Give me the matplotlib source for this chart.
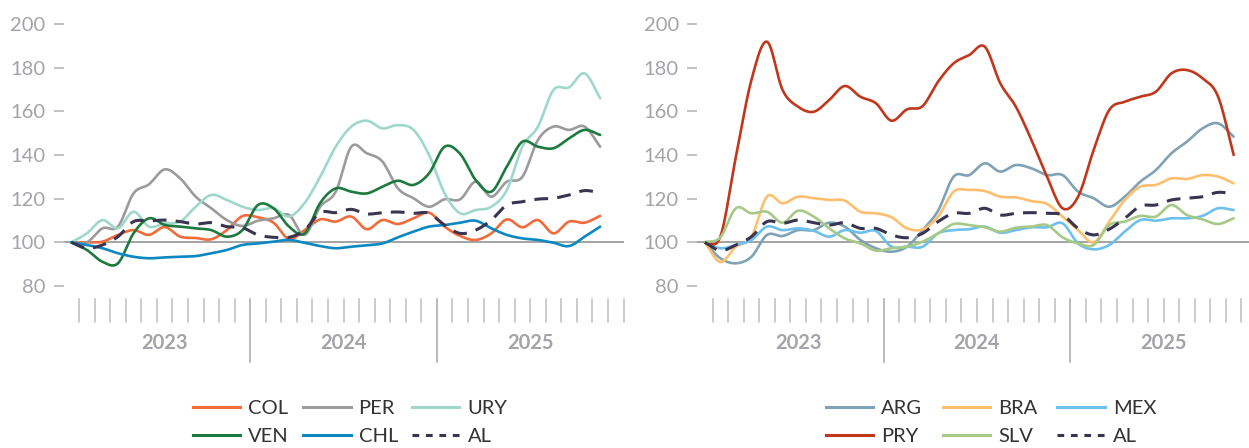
import matplotlib
matplotlib.use("Agg")
import matplotlib.pyplot as plt
import numpy as np
from matplotlib.lines import Line2D

plt.rcParams['font.family'] = ['Lato', 'DejaVu Sans']

# monthly index, Jan 2023 = 100 (35 months: Jan 2023 - Nov 2025)
years = ['2023', '2024', '2025']

COL = [100, 100, 100.3, 103.4, 105.6, 103.4, 107, 102.6, 102, 101.4, 105.6, 112,
       111.5, 109, 101.5, 105.6, 110.5, 109.5, 111.8, 106, 110.2, 108.4, 111, 113.6,
       107.2, 102.9, 101.1, 104.1, 110.5, 106.9, 110.2, 104.1, 109.5, 109, 112.1]
PER = [100, 100, 106.4, 107.2, 122.4, 126.6, 133.4, 129.3, 120.9, 115.6, 110.2, 107.5,
       109.9, 111, 112.5, 103.4, 116.3, 123.2, 143.8, 140.8, 137, 124.7, 120.2, 116.3,
       119.7, 119.7, 127.8, 120.9, 127.8, 130, 146.9, 153, 151.5, 153, 143.8]
URY = [100, 104.1, 110.2, 106.4, 114, 107.2, 108.7, 109.5, 116.3, 121.7, 119.4, 116.3,
       114.8, 115.6, 111.8, 118, 130, 143.8, 153, 155.7, 152.2, 153.7, 151.5, 140,
       122.4, 113.3, 114.8, 116.3, 124, 143.8, 153, 169.8, 171, 177.4, 166]
VEN = [100, 96.5, 91.1, 90.4, 104.1, 111, 108, 107.2, 106.4, 105.6, 102.6, 105.6,
       117.1, 115.6, 107.2, 104.1, 118, 124.7, 123.2, 122.4, 125.5, 128.2, 126.3, 131.6,
       143.8, 140.5, 128.5, 123.2, 134.7, 146.1, 143.8, 143.1, 147.6, 151.5, 149.2]
CHL = [100, 98.8, 97.3, 95, 93.4, 92.7, 93.1, 93.4, 93.7, 95, 96.5, 98.8,
       99.5, 100.3, 101.1, 99.8, 98.3, 97.3, 98, 98.6, 99.5, 102.3, 104.9, 107.2,
       107.9, 109, 109.9, 106.4, 103.4, 101.8, 101.1, 99.8, 98.3, 102.6, 107.2]
AL_1 = [100, 97.3, 98.8, 102.6, 109.5, 109.8, 110.2, 109.5, 108.4, 109, 107.2, 106.7,
        103.4, 102.3, 102.3, 105.6, 113.6, 113.6, 115.1, 113, 113.6, 113.9, 113.3, 113.3,
        107.9, 104.1, 105.6, 110.2, 117.1, 118.6, 119.8, 120.2, 121.7, 123.7, 122.7]

ARG = [100, 92.7, 90.4, 93.4, 103.4, 102.9, 105.6, 105.6, 109, 107.2, 101.1, 97.3,
       95.7, 98, 105.6, 114.5, 130.1, 130.8, 136.2, 132.4, 135.4, 133.9, 130.8, 130.8,
       123.2, 120.2, 116.3, 120.9, 127.8, 133.1, 140.8, 146.1, 152.2, 154.5, 148.4]
BRA = [100, 91, 98, 102.5, 121, 117.9, 120.9, 120.2, 119.4, 119.1, 114, 113.3,
       111.5, 106.4, 106, 111.8, 123.2, 124, 123.5, 120.9, 120.6, 118.9, 117.6, 111.8,
       105.6, 100, 109.5, 119.4, 125.5, 126.3, 129.3, 129, 130.8, 130.1, 127]
MEX = [100, 97.3, 98.8, 101.1, 107.2, 105.6, 106.4, 105.3, 102.6, 105.6, 104.4, 105.2,
       98, 98, 98, 104.1, 105.6, 106, 107.2, 104.4, 105.6, 106.9, 106.9, 108.7,
       99.5, 96.8, 98.8, 104.9, 110.2, 109.9, 111, 111, 112.1, 115.6, 114.8]
PRY = [100, 102.6, 139.2, 174.4, 191.9, 169.8, 162.1, 159.8, 165.2, 171.6, 166.7, 163.7,
       155.7, 160.9, 162.4, 173.6, 182, 185.8, 189.6, 172.8, 162.1, 146.9, 130.1, 115.6,
       120.9, 142.3, 160.6, 164.4, 166.7, 169, 177.4, 178.9, 175.1, 166.7, 140]
SLV = [100, 102.3, 115.6, 113.3, 114, 109, 114.5, 111.8, 106.4, 101.8, 99.5, 96.2,
       97.3, 98, 100.3, 104.1, 108.4, 107.9, 106.9, 104.9, 106.7, 107.2, 107.9, 102.3,
       99.5, 98.8, 107.9, 109.5, 112.1, 111.8, 117.1, 112.5, 110.5, 108.4, 111]
AL_2 = [100, 96.2, 98.8, 102.6, 109.5, 108.7, 110.2, 109, 107.9, 109, 106.4, 106.4,
        103.4, 102.1, 104.1, 109.5, 113.3, 113.3, 115.6, 112.5, 113.3, 113.6, 113.3, 112.5,
        106.4, 103.4, 106, 111, 116.6, 117.1, 119.4, 120.2, 120.9, 122.9, 122.1]

left_series = [('COL', COL, '#f26b3a'), ('PER', PER, '#9b9b9b'), ('URY', URY, '#9fd8cb'),
               ('VEN', VEN, '#1d7a3e'), ('CHL', CHL, '#0a88c1'), ('AL', AL_1, '#3b3450')]
right_series = [('ARG', ARG, '#7fa2b4'), ('BRA', BRA, '#fdbf6f'), ('MEX', MEX, '#6dc0eb'),
                ('PRY', PRY, '#c0381c'), ('SLV', SLV, '#a6c987'), ('AL', AL_2, '#3b3450')]

GRAY_TXT = '#a3a3a9'


def smooth(y, n=12):
    # catmull-rom curve through the monthly points (like excel smoothed lines)
    y = np.asarray(y, float)
    p = np.concatenate([[2 * y[0] - y[1]], y, [2 * y[-1] - y[-2]]])
    xs, ys = [], []
    t = np.linspace(0, 1, n, endpoint=False)
    for i in range(len(y) - 1):
        p0, p1, p2, p3 = p[i], p[i + 1], p[i + 2], p[i + 3]
        seg = 0.5 * (2 * p1 + (-p0 + p2) * t + (2 * p0 - 5 * p1 + 4 * p2 - p3) * t ** 2
                     + (-p0 + 3 * p1 - 3 * p2 + p3) * t ** 3)
        xs.extend(i + t)
        ys.extend(seg)
    xs.append(len(y) - 1)
    ys.append(y[-1])
    return np.array(xs), np.array(ys)


def draw_panel(ax, series):
    ax.axhline(100, color='#9c9c9c', lw=1.3, zorder=1)
    for name, vals, col in series:
        xs, ys = smooth(vals)
        if name == 'AL':
            ax.plot(xs, ys, color=col, lw=2.2, dashes=(4.5, 3), zorder=5)
        else:
            ax.plot(xs, ys, color=col, lw=1.9, solid_capstyle='round', zorder=3)
    ax.set_xlim(-0.5, 35.5)
    ax.set_ylim(80, 200)
    ax.set_yticks(range(80, 201, 20))
    ax.set_xticks([])
    for s in ax.spines.values():
        s.set_visible(False)
    ax.tick_params(axis='y', length=7.5, width=1.1, color='#b0b0b0', pad=5.5,
                   labelsize=14.5, labelcolor=GRAY_TXT)
    tr = ax.get_xaxis_transform()
    for k in range(36):
        xb = k + 0.5
        if xb in (11.5, 23.5):
            ax.plot([xb, xb], [-0.05, -0.29], transform=tr, color='#a8a8a8',
                    lw=1.1, clip_on=False)
        else:
            ax.plot([xb, xb], [-0.05, -0.137], transform=tr, color='#bdbdbd',
                    lw=1.1, clip_on=False)
    for yr, xc in zip(years, [6, 17.5, 29.5]):
        ax.text(xc, -0.218, yr, transform=tr, ha='center', va='center',
                fontsize=14.5, color=GRAY_TXT, fontweight='bold')


def add_legend(fig, series, x0, colsp):
    order = [0, 3, 1, 4, 2, 5]
    handles, labels = [], []
    for i in order:
        name, vals, col = series[i]
        if name == 'AL':
            h = Line2D([], [], color=col, lw=2.2, dashes=(2.2, 2.2))
        else:
            h = Line2D([], [], color=col, lw=2.2)
        handles.append(h)
        labels.append(name)
    fig.legend(handles, labels, ncol=3, loc='upper left',
               bbox_to_anchor=(x0 / 1249, 1 - 400 / 448), frameon=False,
               fontsize=14.5, handlelength=2.35, handletextpad=0.4,
               columnspacing=colsp, labelspacing=0.52, borderpad=0,
               borderaxespad=0, labelcolor='#333333')


fig = plt.figure(figsize=(12.49, 4.48), dpi=100)
ax1 = fig.add_axes([63.5 / 1249, 162 / 448, 560 / 1249, 262 / 448])
ax2 = fig.add_axes([697 / 1249, 162 / 448, 560 / 1249, 262 / 448])
draw_panel(ax1, left_series)
draw_panel(ax2, right_series)
add_legend(fig, left_series, 193, 0.7)
add_legend(fig, right_series, 826, 1.0)

fig.savefig('out.png', dpi=100)
